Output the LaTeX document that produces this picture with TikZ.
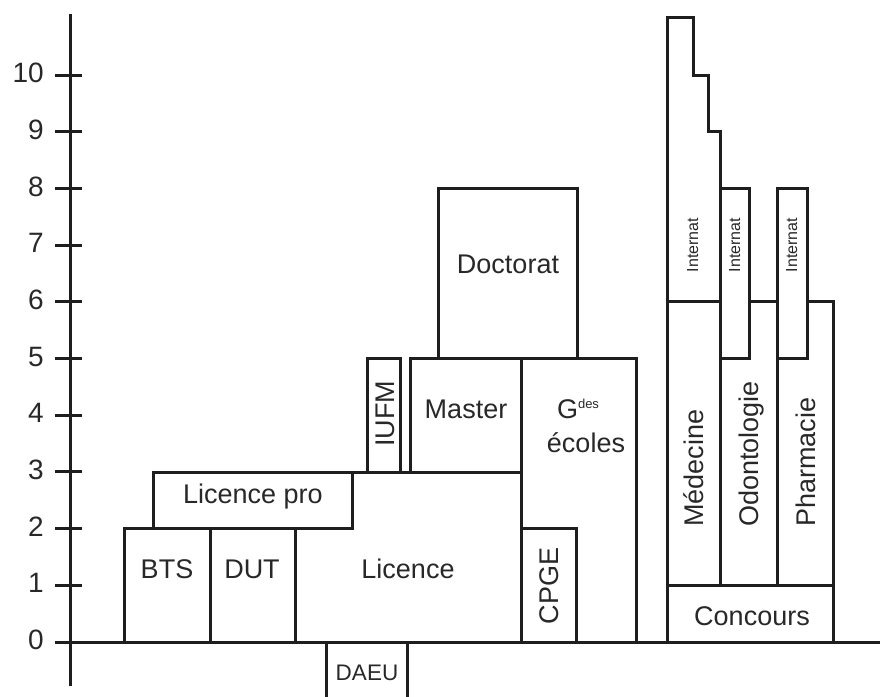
\documentclass[tikz,border=0pt]{standalone}
\usepackage{fontspec}
\setmainfont{Liberation Sans}
\definecolor{ink}{RGB}{30,30,30}
\definecolor{txt}{RGB}{40,40,40}
\tikzset{
  box/.style={draw=ink, fill=white, line width=3pt, line join=miter},
  ax/.style={draw=ink, line width=3pt},
  lbl/.style={font=\fontsize{27}{32}\selectfont, text=txt, inner sep=0pt},
  small/.style={font=\fontsize{16}{18}\selectfont, text=txt, inner sep=0pt},
  ticklbl/.style={font=\fontsize{28}{32}\selectfont, text=txt, inner sep=0pt, anchor=east}
}
\begin{document}
\begin{tikzpicture}[x=1pt,y=-1pt]
\useasboundingbox (0,0) rectangle (880,696);
\clip (0,0) rectangle (880,696);
% boxes
\draw[box] (124,528.6) rectangle (210,642);
\draw[box] (210,528.6) rectangle (295,642);
\draw[box] (295,472) rectangle (521,642);
\draw[box] (153,472) rectangle (352,528.6);
\draw[box] (326,642) rectangle (407,705);
\draw[box] (367,358.5) rectangle (400,472);
\draw[box] (410,358.5) rectangle (521,472);
\draw[box] (438,188.4) rectangle (577,358.5);
\draw[box] (521,358.5) rectangle (636,642);
\draw[box] (521,528.6) rectangle (576,642);
\draw[box] (667,585.3) rectangle (833,642);
\draw[box] (667,301.8) rectangle (720,585.3);
\draw[box] (720,301.8) rectangle (777,585.3);
\draw[box] (777,301.8) rectangle (833,585.3);
\draw[box] (667,301.8) -- (667,17) -- (693,17) -- (693,75) -- (708,75) -- (708,131.7) -- (720,131.7) -- (720,301.8) -- cycle;
\draw[box] (720,188.4) rectangle (749,358.5);
\draw[box] (777,188.4) rectangle (807,358.5);
% axes
\coordinate (ytop) at (70,14);
\coordinate (ybot) at (70,686);
\coordinate (xl) at (55,642);
\coordinate (xr) at (880,642);
\draw[ax] (ytop) -- (ybot);
\draw[ax] (xl) -- (xr);
\foreach \k in {0,...,10} {
  \coordinate (ta\k) at (55,{642-56.7*\k});
  \coordinate (tb\k) at (82,{642-56.7*\k});
  \draw[ax] (ta\k) -- (tb\k);
  \node[ticklbl] (t\k) at (44,{640-56.7*\k}) {\k};
}
% labels
\node[lbl, anchor=base] (bts) at (167,578) {BTS};
\node[lbl, anchor=base] (dut) at (252,578) {DUT};
\node[lbl, anchor=base] (lpro) at (253,503) {Licence pro};
\node[lbl, anchor=base] (lic) at (408,578) {Licence};
\node[lbl, anchor=base, font=\fontsize{22.5}{26}\selectfont] (daeu) at (367,680) {DAEU};
\node[lbl, anchor=base, rotate=90] (iufm) at (394,414) {IUFM};
\node[lbl, anchor=base] (mast) at (466,418) {Master};
\node[lbl, anchor=base] (doc) at (508,273) {Doctorat};
\node[lbl, anchor=base] (gdes) at (578,418) {G\raisebox{9.5pt}{\fontsize{13}{13}\selectfont des}};
\node[lbl, anchor=base] (ecol) at (586,452) {écoles};
\node[lbl, anchor=base, rotate=90] (cpge) at (558,586) {CPGE};
\node[lbl, anchor=base] (conc) at (752,625) {Concours};
\node[lbl, anchor=base west, rotate=90] (med) at (703,527) {Médecine};
\node[lbl, anchor=base west, rotate=90] (odo) at (758,527) {Odontologie};
\node[lbl, anchor=base west, rotate=90] (pha) at (815,527) {Pharmacie};
\node[small, anchor=base, rotate=90] (int1) at (698,245) {Internat};
\node[small, anchor=base, rotate=90] (int2) at (740,245) {Internat};
\node[small, anchor=base, rotate=90] (int3) at (797,245) {Internat};
\end{tikzpicture}
\end{document}
